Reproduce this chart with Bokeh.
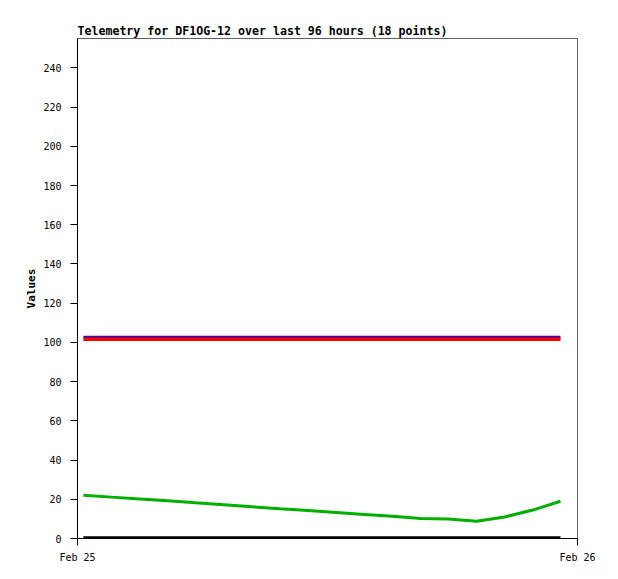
import pandas as pd
from bokeh.plotting import figure
from bokeh.models import Range1d, FixedTicker, DatetimeTickFormatter, ColumnDataSource
from bokeh.embed import file_html
from bokeh.resources import INLINE

# ---- data ----
title_text = "Telemetry for DF1OG-12 over last 96 hours (18 points)"
times = ["2025-02-25 00:17", "2025-02-25 01:38", "2025-02-25 02:59", "2025-02-25 04:20",
         "2025-02-25 05:40", "2025-02-25 07:01", "2025-02-25 08:22", "2025-02-25 09:43",
         "2025-02-25 11:04", "2025-02-25 12:25", "2025-02-25 13:46", "2025-02-25 15:07",
         "2025-02-25 16:28", "2025-02-25 17:48", "2025-02-25 19:09", "2025-02-25 20:30",
         "2025-02-25 21:51", "2025-02-25 23:11"]
green_vals = [22.1, 21.1, 20.2, 19.2, 18.2, 17.2, 16.2, 15.2, 14.3, 13.3, 12.3, 11.3,
              10.2, 9.9, 8.8, 11.0, 14.5, 19.0]
purple_vals = [102.6] * 18
red_vals = [101.5] * 18
black_vals = [0.4] * 18
y_ticks = [0, 20, 40, 60, 80, 100, 120, 140, 160, 180, 200, 220, 240]
x_ticks = ["2025-02-25", "2025-02-26"]
x_start, x_end = "2025-02-25 00:00", "2025-02-26 00:00"
y_start, y_end = 0, 255

t = pd.to_datetime(times)
src = ColumnDataSource(dict(t=t, g=green_vals, p=purple_vals, r=red_vals, k=black_vals))

MONO = "DejaVu Sans Mono"

p = figure(width=608, height=568, output_backend="svg", toolbar_location=None,
           x_axis_type="datetime",
           x_range=Range1d(pd.Timestamp(x_start), pd.Timestamp(x_end)),
           y_range=Range1d(y_start, y_end),
           min_border_left=77, min_border_right=31, min_border_top=38, min_border_bottom=30)

p.title.text = title_text
p.title.text_font = MONO
p.title.text_font_size = "11.6px"
p.title.text_font_style = "bold"
p.title.text_color = "black"
p.title.align = "left"
p.title.standoff = 2
p.title.offset = 0

p.grid.visible = False
p.outline_line_color = "#606060"
p.outline_line_width = 1
p.background_fill_color = "white"
p.border_fill_color = "white"

p.line("t", "g", source=src, line_color="#00B000", line_width=3)
p.line("t", "k", source=src, line_color="black", line_width=3)
p.line("t", "p", source=src, line_color="#660080", line_width=3)
p.line("t", "r", source=src, line_color="#FF0000", line_width=3)

ya = p.yaxis[0]
ya.ticker = FixedTicker(ticks=y_ticks)
ya.minor_tick_line_color = None
ya.major_tick_out = 7
ya.major_tick_in = 0
ya.major_tick_line_color = "black"
ya.major_label_standoff = 9
ya.major_label_text_font = MONO
ya.major_label_text_font_size = "10px"
ya.major_label_text_color = "black"
ya.axis_label = "Values"
ya.axis_label_text_font = MONO
ya.axis_label_text_font_size = "11px"
ya.axis_label_text_font_style = "bold"
ya.axis_label_text_color = "black"
ya.axis_label_standoff = 2
ya.axis_line_color = "black"

xa = p.xaxis[0]
xa.ticker = FixedTicker(ticks=[pd.Timestamp(s).value / 1e6 for s in x_ticks])
xa.formatter = DatetimeTickFormatter(days="%b %d", hours="%b %d", months="%b %d")
xa.minor_tick_line_color = None
xa.major_tick_out = 7
xa.major_tick_in = 0
xa.major_tick_line_color = "black"
xa.major_label_standoff = 6
xa.major_label_text_font = MONO
xa.major_label_text_font_size = "10px"
xa.major_label_text_color = "black"
xa.axis_line_color = "black"

open("out.html", "w").write(file_html(p, INLINE))
